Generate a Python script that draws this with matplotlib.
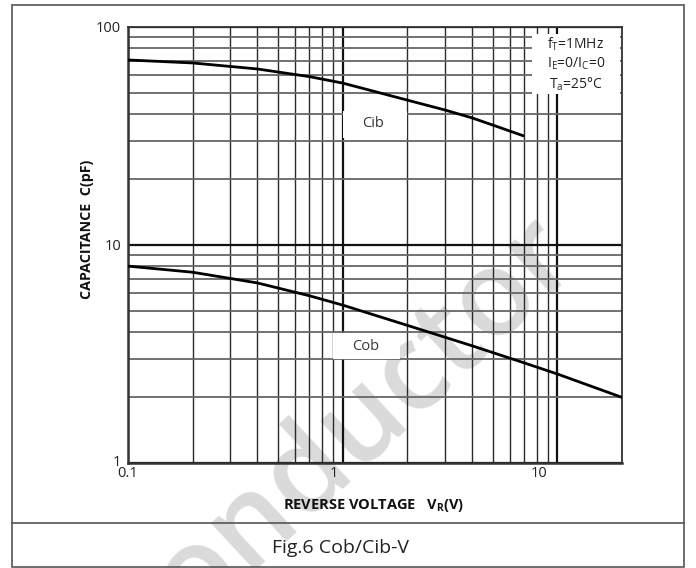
import matplotlib
matplotlib.use("Agg")
import matplotlib.pyplot as plt
from matplotlib.patches import Rectangle
from matplotlib.lines import Line2D
import matplotlib.transforms as mtransforms
from matplotlib.ticker import LogLocator, NullFormatter

plt.rcParams['font.family'] = ['Open Sans', 'DejaVu Sans']

# ---- data ----
cib_v = [0.1, 0.2, 0.4, 0.7, 1, 2, 3, 4, 5, 7]
cib_c = [70.6, 68.4, 64.2, 59.2, 55.3, 46.2, 41.6, 38.3, 35.5, 31.6]
cob_v = [0.1, 0.2, 0.4, 0.7, 1, 2, 4, 7, 10, 20]
cob_c = [8.0, 7.5, 6.7, 5.85, 5.3, 4.28, 3.45, 2.88, 2.56, 2.0]
x_ticks = [0.1, 1, 10]
x_tick_labels = ["0.1", "1", "10"]
y_ticks = [1, 10, 100]
y_tick_labels = ["1", "10", "100"]

W, H = 696, 568
fig = plt.figure(figsize=(W / 100, H / 100), dpi=100)

def fx(px):
    return px / W

def fy(py):
    return 1 - py / H

# outer frame and caption divider
fig.add_artist(Rectangle((fx(12), fy(567)), fx(684) - fx(12), fy(5) - fy(567),
                         transform=fig.transFigure, fill=False, edgecolor='#555555', lw=1.2))
fig.add_artist(Line2D([fx(12), fx(684)], [fy(523), fy(523)], transform=fig.transFigure,
                      color='#555555', lw=1.2))

# watermark
fig.text(fx(345), fy(440), "conductor", fontsize=86, color='#dadada', rotation=43,
         fontweight='semibold', ha='center', va='center', rotation_mode='anchor', zorder=-5,
         family=['Open Sans', 'DejaVu Sans'])

ax = fig.add_axes([fx(128), fy(463), fx(622) - fx(128), fy(27) - fy(463)])
ax.set_facecolor('none')
ax.set_xscale('log')
ax.set_yscale('log')
ax.set_xlim(0.1, 20)
ax.set_ylim(1, 100)

# grid
ax.xaxis.set_minor_locator(LogLocator(base=10, subs=range(2, 10), numticks=20))
ax.yaxis.set_minor_locator(LogLocator(base=10, subs=range(2, 10), numticks=20))
ax.xaxis.set_minor_formatter(NullFormatter())
ax.yaxis.set_minor_formatter(NullFormatter())
ax.grid(True, which='minor', axis='x', color='#2a2a2a', lw=1.0, zorder=1)
ax.grid(True, which='major', axis='x', color='#111111', lw=1.6, zorder=1)
ax.grid(True, which='minor', axis='y', color='#666666', lw=1.3, zorder=1)
ax.grid(True, which='major', axis='y', color='#111111', lw=1.6, zorder=1)
ax.set_axisbelow(True)
ax.tick_params(which='both', length=0)

ax.set_xticks(x_ticks)
ax.set_xticklabels(x_tick_labels, fontsize=10.5, color='#222222')
ax.set_yticks(y_ticks)
ax.set_yticklabels(y_tick_labels, fontsize=10.5, color='#222222')
ax.tick_params(axis='x', pad=2)
ax.tick_params(axis='y', pad=5)

offs = [0, -9, -18]
for lab, o in zip(ax.get_xticklabels(), offs):
    lab.set_transform(lab.get_transform() + mtransforms.ScaledTranslation(o / 100, 0, fig.dpi_scale_trans))
ylab_offs = [2, 0, 0]
for lab, o in zip(ax.get_yticklabels(), ylab_offs):
    lab.set_transform(lab.get_transform() + mtransforms.ScaledTranslation(0, o / 100, fig.dpi_scale_trans))

for s in ax.spines.values():
    s.set_color('#333333')
    s.set_linewidth(1.3)
ax.spines['left'].set_linewidth(1.8)
ax.spines['bottom'].set_linewidth(1.8)

# curves
ax.plot(cib_v, cib_c, color='black', lw=2.0, zorder=4, solid_capstyle='butt')
ax.plot(cob_v, cob_c, color='black', lw=2.0, zorder=4, solid_capstyle='butt')

# label boxes
ax.add_patch(Rectangle((fx(343), fy(138)), fx(407) - fx(343), fy(111) - fy(138),
                       transform=fig.transFigure, facecolor='white', edgecolor='none', zorder=3))
ax.text(fx(373), fy(124), "Cib", transform=fig.transFigure, fontsize=10.5, color='#333333',
        ha='center', va='center', zorder=5)
ax.add_patch(Rectangle((fx(333), fy(359)), fx(400) - fx(333), fy(333) - fy(359),
                       transform=fig.transFigure, facecolor='white', edgecolor='none', zorder=3))
ax.text(fx(366), fy(346), "Cob", transform=fig.transFigure, fontsize=10.5, color='#333333',
        ha='center', va='center', zorder=5)

# conditions box
ax.add_patch(Rectangle((fx(532), fy(94)), fx(620) - fx(532), fy(34) - fy(94),
                       transform=fig.transFigure, facecolor='white', edgecolor='none', zorder=3))
cond = "f$_\\mathregular{T}$=1MHz\nI$_\\mathregular{E}$=0/I$_\\mathregular{C}$=0\nT$_\\mathregular{a}$=25°C"
ax.text(fx(576), fy(64), cond, transform=fig.transFigure, fontsize=10, color='#222222',
        ha='center', va='center', linespacing=1.25, zorder=5)

# axis labels
fig.text(fx(374), fy(505), "REVERSE VOLTAGE   V$_\\mathregular{R}$(V)", fontsize=10.5,
         fontweight='bold', color='#111111', ha='center', va='center')
fig.text(fx(87), fy(229), "CAPACITANCE  C(pF)", fontsize=10.3, fontweight='bold',
         color='#111111', ha='center', va='center', rotation=90)

# caption
fig.text(fx(340), fy(548), "Fig.6 Cob/Cib-V", fontsize=14, color='#222222',
         ha='center', va='center')

fig.savefig("out.png", dpi=100)
